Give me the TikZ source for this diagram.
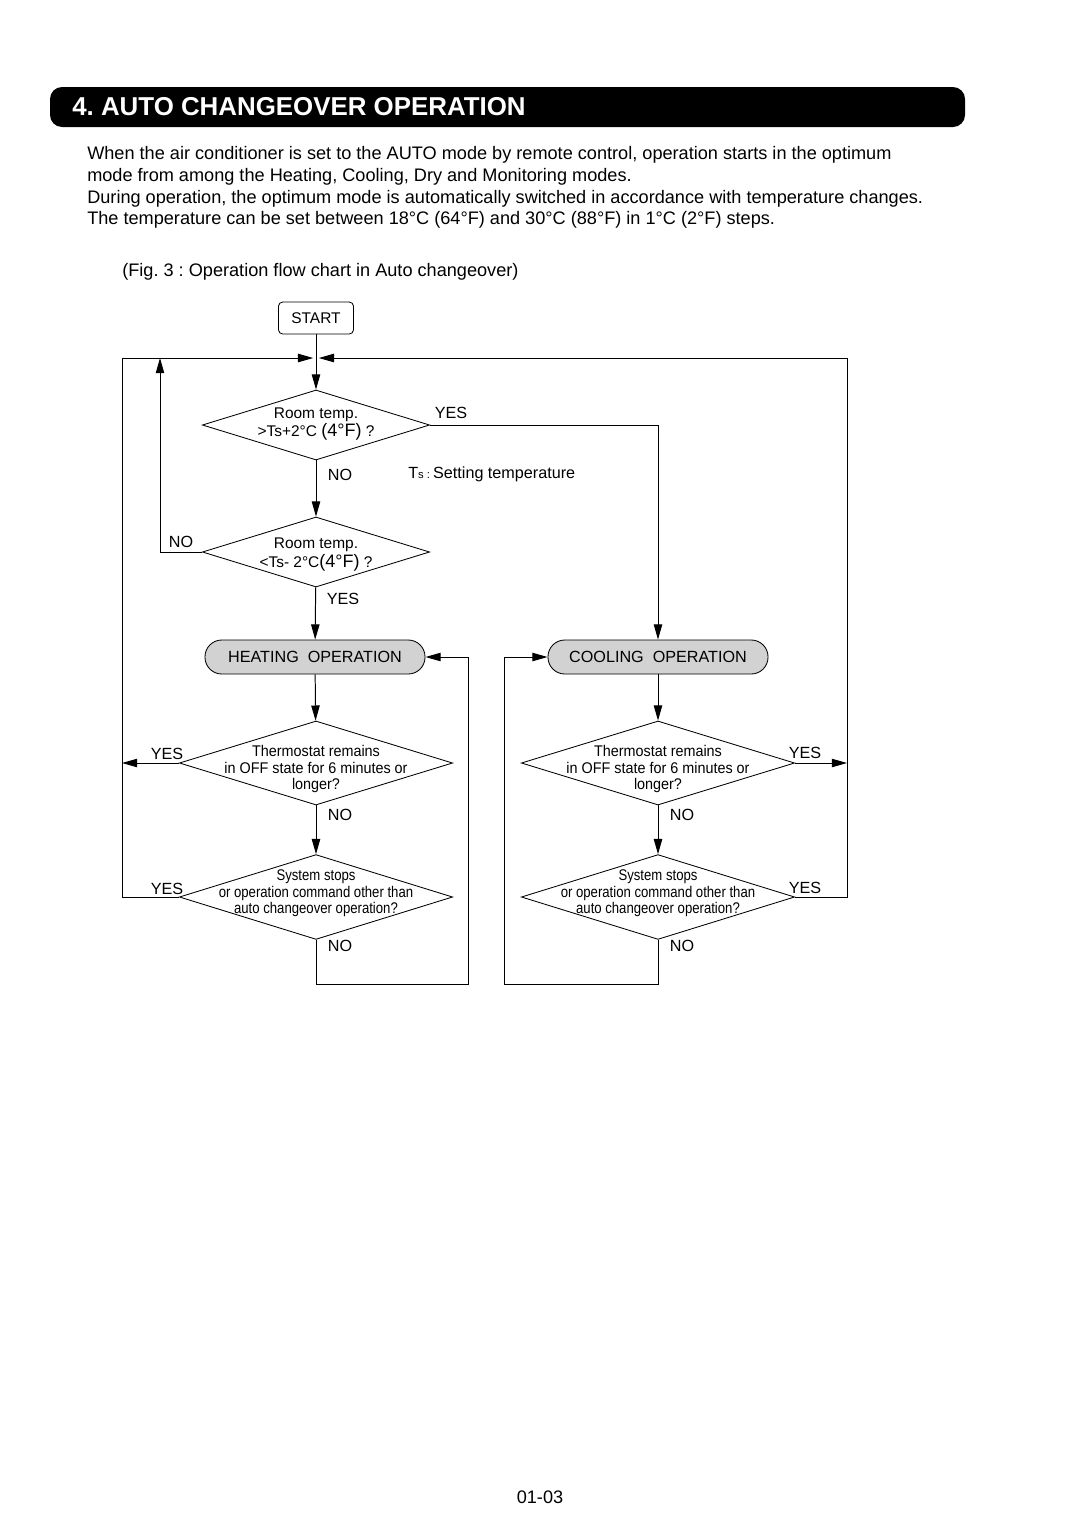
\documentclass[tikz,border=0pt]{standalone}
\usepackage{fontspec}
\setmainfont{Liberation Sans}
\newfontfamily\thermofont[FakeStretch=0.93]{Liberation Sans}
\newfontfamily\stopfont[FakeStretch=0.85]{Liberation Sans}
\usetikzlibrary{shapes.geometric,arrows.meta}
\frenchspacing

\begin{document}
\begin{tikzpicture}[x=0.025cm,y=-0.025cm,
    wire/.style={line width=0.7pt},
    flow/.style={wire,-{Triangle[length=0.38cm,width=0.21cm]}},
    decide/.style={diamond,draw,line width=0.6pt,inner sep=0pt},
    opbox/.style={draw,line width=0.6pt,fill=gray!35,rounded corners=0.42cm,
      minimum width=5.5cm,minimum height=0.85cm,font=\fontsize{11.5}{13}\selectfont},
    yn/.style={font=\fontsize{11.5}{13}\selectfont,inner sep=0pt},
    body/.style={anchor=base west,inner sep=0pt,font=\fontsize{12.9}{15}\selectfont}]
  \useasboundingbox (0,0) rectangle (1080,1527);
  % heading and text
  \fill[rounded corners=0.3cm] (50,87) rectangle (965,127);
  \node[anchor=base west,inner sep=0pt,text=white,font=\bfseries\fontsize{18.4}{20}\selectfont]
    (title) at (72,115) {4. AUTO CHANGEOVER OPERATION};
  \node[body] (l1) at (87,159) {When the air conditioner is set to the AUTO mode by remote control, operation starts in the optimum};
  \node[body] (l2) at (87,181) {mode from among the Heating, Cooling, Dry and Monitoring modes.};
  \node[body] (l3) at (87,203) {During operation, the optimum mode is automatically switched in accordance with temperature changes.};
  \node[body] (l4) at (87,224) {The temperature can be set between 18°C (64°F) and 30°C (88°F) in 1°C (2°F) steps.};
  \node[body] (cap) at (122,276) {(Fig. 3 : Operation flow chart in Auto changeover)};
  \node[body,anchor=base] (page) at (540,1503) {01-03};

  % flow chart
  \node[draw,line width=0.6pt,rounded corners=3pt,minimum width=1.875cm,minimum height=0.8cm,
    font=\fontsize{11}{13}\selectfont] (start) at (316,318) {START};
  \node[decide,minimum width=5.68cm,minimum height=1.75cm] (d1) at (316,425) {};
  \node[decide,minimum width=5.68cm,minimum height=1.75cm] (d2) at (316,552) {};
  \node[opbox] (heat) at (315,657) {HEATING\ \ OPERATION};
  \node[opbox] (cool) at (658,657) {COOLING\ \ OPERATION};
  \node[decide,minimum width=6.83cm,minimum height=2.1cm] (d3) at (316,763) {};
  \node[decide,minimum width=6.83cm,minimum height=2.12cm] (d4) at (316,897) {};
  \node[decide,minimum width=6.83cm,minimum height=2.1cm] (d5) at (658,763) {};
  \node[decide,minimum width=6.83cm,minimum height=2.12cm] (d6) at (658,897) {};

  \node[align=center,inner sep=0pt,font=\fontsize{11}{13}\selectfont] (t1) at (316,424)
    {Room temp.\\ >Ts+2°C {\fontsize{12.8}{13}\selectfont(4°F)} ?};
  \node[align=center,inner sep=0pt,font=\fontsize{11}{13.5}\selectfont] (t2) at (316,555)
    {Room temp.\\ <Ts- 2°C{\fontsize{12.8}{13}\selectfont(4°F)} ?};
  \node[align=center,inner sep=0pt,font=\thermofont\fontsize{11}{11.8}\selectfont] (t3) at (316,769)
    {Thermostat remains\\ in OFF state for 6 minutes or\\ longer?};
  \node[align=center,inner sep=0pt,font=\thermofont\fontsize{11}{11.8}\selectfont] (t5) at (658,769)
    {Thermostat remains\\ in OFF state for 6 minutes or\\ longer?};
  \node[align=center,inner sep=0pt,font=\stopfont\fontsize{11}{11.8}\selectfont] (t4) at (316,893.5)
    {System stops\\ or operation command other than\\ auto changeover operation?};
  \node[align=center,inner sep=0pt,font=\stopfont\fontsize{11}{11.8}\selectfont] (t6) at (658,893.5)
    {System stops\\ or operation command other than\\ auto changeover operation?};
  \node[anchor=west,inner sep=0pt,font=\fontsize{11.5}{13}\selectfont] (ts) at (408,474)
    {T{\fontsize{8}{8}\selectfont s : }Setting temperature};

  \node[yn] (y1) at (451,413) {YES};
  \node[yn] (n1) at (340,475) {NO};
  \node[yn] (n2) at (181,542) {NO};
  \node[yn] (y2) at (343,599) {YES};
  \node[yn] (y3) at (167,754) {YES};
  \node[yn] (n3) at (340,815) {NO};
  \node[yn] (y4) at (167,889) {YES};
  \node[yn] (n4) at (340,946) {NO};
  \node[yn] (y5) at (805,753) {YES};
  \node[yn] (n5) at (682,815) {NO};
  \node[yn] (y6) at (805,888) {YES};
  \node[yn] (n6) at (682,946) {NO};

  \coordinate (top) at (316,358);
  \coordinate (lrail) at (122,358);
  \coordinate (irail) at (160,358);
  \coordinate (rrail) at (847,358);
  \coordinate (hb) at (468,984);
  \coordinate (cb) at (504,984);

  \draw[flow] (start) -- (d1);
  \draw[flow] (d1) -- (d2);
  \draw[flow] (d2) -- (heat);
  \draw[flow] (heat) -- (d3);
  \draw[flow] (d3) -- (d4);
  \draw[flow] (cool) -- (d5);
  \draw[flow] (d5) -- (d6);
  \draw[flow] (d1.east) -| (cool.north);
  \draw[flow] (d2.west) -- (d2.west -| irail) -- (irail);
  \draw[flow] (d3.west) -- (d3.west -| lrail);
  \draw[flow] (d5.east) -- (d5.east -| rrail);
  \draw[flow,shorten >=2pt] (d4.west) -- (d4.west -| lrail) -- (lrail) -- (top);
  \draw[flow,shorten >=2pt] (d6.east) -- (d6.east -| rrail) -- (rrail) -- (top);
  \draw[flow] (d4.south) |- (hb) |- (heat.east);
  \draw[flow] (d6.south) |- (cb) |- (cool.west);
\end{tikzpicture}
\end{document}
